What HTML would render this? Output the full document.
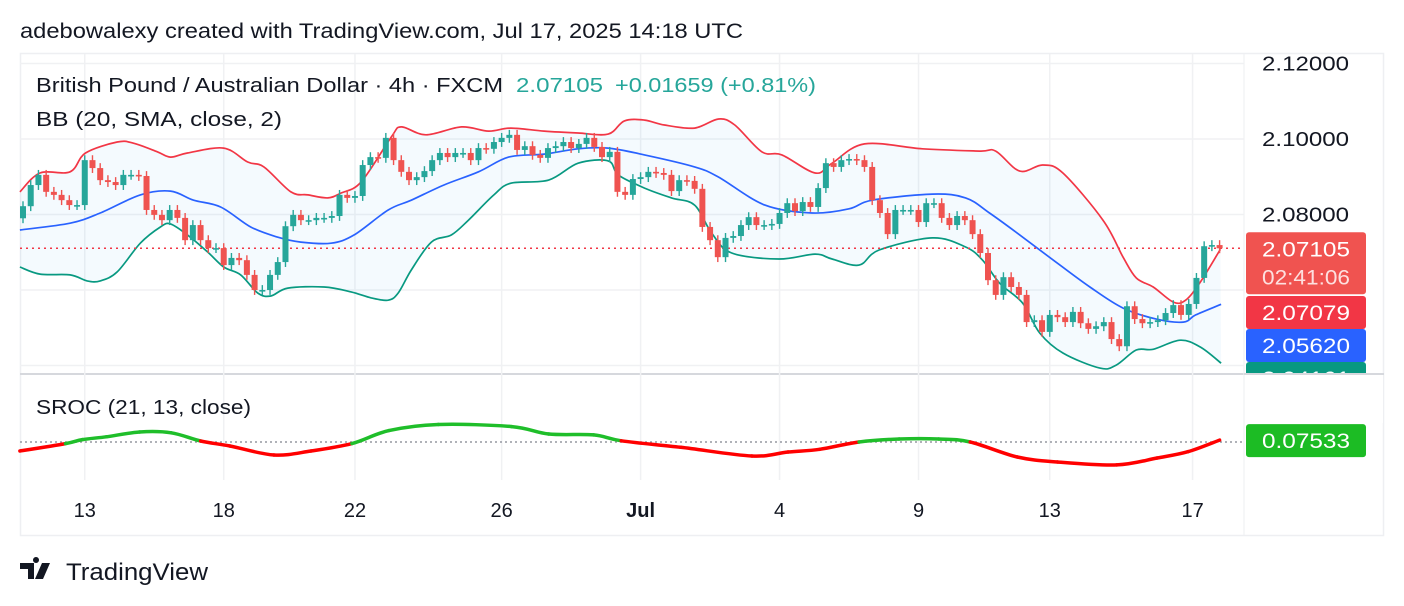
<!DOCTYPE html>
<html><head><meta charset="utf-8">
<style>
html,body{margin:0;padding:0;background:#fff;}
svg{display:block;font-family:"Liberation Sans",sans-serif;}
</style></head>
<body>
<svg id="chart" width="1404" height="606" viewBox="0 0 1404 606">
  <text x="20" y="38" font-size="21" fill="#131722" textLength="723" lengthAdjust="spacingAndGlyphs">adebowalexy created with TradingView.com, Jul 17, 2025 14:18 UTC</text>
  <rect x="20.5" y="53.5" width="1363" height="482" fill="none" stroke="#eeeff2" stroke-width="1.5"/>
  <line x1="20" y1="374" x2="1384" y2="374" stroke="#d6d8dd" stroke-width="2"/>
  <line x1="1244" y1="53" x2="1244" y2="536" stroke="#eeeff2" stroke-width="1"/>
  <g id="grid"></g>
  <g id="bands"></g>
  <g id="candles"></g>
  <g id="sroc"></g>
  <g id="axes"></g>
  <text x="36" y="92" font-size="20" fill="#131722" textLength="467" lengthAdjust="spacingAndGlyphs">British Pound / Australian Dollar · 4h · FXCM</text>
  <text x="516" y="92" font-size="20" fill="#26a69a" textLength="87" lengthAdjust="spacingAndGlyphs">2.07105</text>
  <text x="615" y="92" font-size="20" fill="#26a69a" textLength="201" lengthAdjust="spacingAndGlyphs">+0.01659 (+0.81%)</text>
  <text x="36" y="126" font-size="20" fill="#131722" textLength="246" lengthAdjust="spacingAndGlyphs">BB (20, SMA, close, 2)</text>
  <text x="36" y="414" font-size="20" fill="#131722" textLength="215" lengthAdjust="spacingAndGlyphs">SROC (21, 13, close)</text>
  <g>
    <path d="M20 563h14v16h-6v-10h-8z M36 563a3 3 0 1 1 0.01 0z M42 563h8l-7 16h-8z" fill="#131722"/>
    <text x="66" y="580" font-size="24" fill="#131722" textLength="142" lengthAdjust="spacingAndGlyphs">TradingView</text>
  </g>
</svg>
<script>
const closes = [2.0822,2.0878,2.0905,2.0860,2.0852,2.0838,2.0825,2.0825,2.0944,2.0923,2.0891,2.0886,2.0878,2.0905,2.0905,2.0902,2.0812,2.0799,2.0785,2.0812,2.0791,2.0732,2.0772,2.0732,2.0711,2.0711,2.0666,2.0685,2.0679,2.0640,2.0600,2.0600,2.0640,2.0674,2.0769,2.0799,2.0785,2.0785,2.0791,2.0791,2.0796,2.0852,2.0844,2.0849,2.0931,2.0952,2.0950,2.1003,2.0944,2.0913,2.0891,
2.0899,2.0915,2.0944,2.0963,2.0952,2.0963,2.0963,2.0944,2.0976,2.0974,2.0992,2.1003,2.1011,2.0971,2.0981,2.0958,2.0950,2.0976,2.0981,2.0992,2.0976,2.0987,2.1003,2.0979,2.0952,2.0966,2.0860,2.0852,2.0894,2.0899,2.0913,2.0910,2.0905,2.0862,2.0891,2.0889,2.0868,2.0767,2.0732,2.0687,2.0738,2.0743,2.0772,2.0793,2.0772,2.0772,2.0775,2.0804,2.0830,2.0809,2.0833,2.0820,2.0870,2.0936,
2.0926,2.0944,2.0947,2.0944,2.0926,2.0838,2.0804,2.0748,2.0812,2.0812,2.0812,2.0780,2.0830,2.0830,2.0791,2.0772,2.0796,2.0785,2.0748,2.0698,2.0626,2.0587,2.0634,2.0608,2.0587,2.0515,2.0520,2.0489,2.0534,2.0528,2.0515,2.0542,2.0512,2.0497,2.0504,2.0515,2.0470,2.0451,2.0557,2.0523,2.0512,2.0515,2.0520,2.0539,2.0560,2.0534,2.0563,2.0632,2.0716,2.0719,2.07105];
const firstOpen = 2.0790;
const upperIdx = [-0.4,2.2,6.1,8.1,12.2,14.3,17.4,19.1,21.3,26.0,29.1,31.2,34.7,36.9,39.5,41.2,43.8,47.7,49.0,52.2,56.8,60.3,63.2,67.5,71.9,75.8,77.9,80.5,83.1,87.0,90.1,92.2,95.7,98.3,102.6,104.8,109.0,116.5,123.9,126.0,129.1,132.1,134.7,139.9,142.5,144.2,146.4,149.0,150.6,152.5,155.1];
const upperVal = [2.0860,2.0910,2.0913,2.0963,2.0992,2.0989,2.0966,2.0952,2.0963,2.0976,2.0939,2.0926,2.0860,2.0852,2.0844,2.0857,2.0886,2.1005,2.1032,2.1011,2.1032,2.1021,2.1029,2.1021,2.1016,2.1013,2.1048,2.1050,2.1037,2.1029,2.1053,2.1037,2.0966,2.0958,2.0910,2.0936,2.0987,2.0974,2.0968,2.0968,2.0915,2.0931,2.0910,2.0785,2.0687,2.0632,2.0608,2.0568,2.0573,2.0621,2.07079];
const midIdx = [-0.4,6.1,10.0,15.2,19.1,22.1,25.6,29.5,33.0,36.0,39.9,42.9,47.3,50.3,54.5,59.0,62.9,67.5,71.9,75.8,80.5,87.0,90.1,96.1,102.2,107.0,110.0,117.8,122.1,125.2,129.1,133.8,138.2,142.5,146.8,150.3,151.9,155.2];
const midVal = [2.0759,2.0777,2.0804,2.0852,2.0862,2.0838,2.0820,2.0767,2.0740,2.0727,2.0724,2.0746,2.0812,2.0838,2.0878,2.0913,2.0952,2.0960,2.0974,2.0976,2.0958,2.0926,2.0899,2.0825,2.0804,2.0815,2.0838,2.0854,2.0844,2.0804,2.0746,2.0674,2.0608,2.0552,2.0523,2.0515,2.0534,2.0562];
const lowerIdx = [-0.4,2.2,6.1,8.3,10.0,12.2,15.2,17.8,19.1,21.3,23.9,26.0,28.2,30.4,32.1,34.3,39.0,42.5,45.1,47.3,48.6,50.3,52.9,55.5,57.7,61.0,63.2,68.1,71.9,75.8,77.1,80.5,84.0,87.0,89.2,91.8,97.9,102.6,104.8,108.3,110.9,117.8,122.1,124.3,126.5,129.5,131.7,134.7,139.5,141.6,144.2,146.4,149.9,152.5,155.2];
const lowerVal = [2.0661,2.0642,2.0640,2.0624,2.0624,2.0648,2.0724,2.0767,2.0775,2.0746,2.0701,2.0661,2.0640,2.0592,2.0584,2.0605,2.0608,2.0595,2.0579,2.0573,2.0592,2.0653,2.0727,2.0746,2.0785,2.0852,2.0883,2.0891,2.0936,2.0942,2.0905,2.0870,2.0844,2.0825,2.0751,2.0698,2.0682,2.0695,2.0682,2.0666,2.0706,2.0738,2.0714,2.0679,2.0618,2.0565,2.0486,2.0433,2.0393,2.0401,2.0441,2.0443,2.0467,2.0449,2.0406];
const srocIdx = [-0.4,5.5,7.7,10.8,15.1,19.2,23.0,26.8,32.5,37.3,42.6,47.4,53.8,63.3,68.1,73.9,77.5,85.2,94.4,99.1,103.2,108.3,113.5,118.6,122.7,128.8,134.0,141.7,146.9,150.9,155.0];
const srocVal = [-0.36,-0.064,0.096,0.21,0.40,0.37,0.04,-0.16,-0.52,-0.36,-0.064,0.456,0.70,0.616,0.32,0.284,0.048,-0.212,-0.56,-0.40,-0.292,0,0.12,0.12,0,-0.60,-0.80,-0.916,-0.64,-0.388,0.07533];
const priceTicks = [2.12,2.10,2.08,2.06,2.04];
const priceTickLabels = ["2.12000","2.10000","2.08000","",""];
const timeTickIdx = [8,26,43,62,80,98,116,133,151.5];
const timeTickLabels = ["13","18","22","26","Jul","4","9","13","17"];
const lastPrice = 2.07105;

const NS = "http://www.w3.org/2000/svg";
const X0 = 23, DX = 7.72;
const xs = i => X0 + i * DX;
const ys = p => 139 + (2.10 - p) / 0.02 * 75.5;
const srocY = v => 442 - v / 0.04;
function mk(tag, attrs, parent){ const e=document.createElementNS(NS,tag); for(const k in attrs) e.setAttribute(k, attrs[k]); parent.appendChild(e); return e; }
function pts(ia, va, fy){ return ia.map((i,k)=>[xs(i), fy(va[k])]); }
function smooth(p, start){
  let d = start ? 'M'+p[0][0].toFixed(1)+' '+p[0][1].toFixed(1) : 'L'+p[0][0].toFixed(1)+' '+p[0][1].toFixed(1);
  for(let k=0;k<p.length-1;k++){
    const p0=p[Math.max(0,k-1)], p1=p[k], p2=p[k+1], p3=p[Math.min(p.length-1,k+2)];
    const c1=[p1[0]+(p2[0]-p0[0])/6, p1[1]+(p2[1]-p0[1])/6];
    const c2=[p2[0]-(p3[0]-p1[0])/6, p2[1]-(p3[1]-p1[1])/6];
    d+=' C'+c1[0].toFixed(1)+' '+c1[1].toFixed(1)+' '+c2[0].toFixed(1)+' '+c2[1].toFixed(1)+' '+p2[0].toFixed(1)+' '+p2[1].toFixed(1);
  }
  return d;
}

const grid = document.getElementById('grid');
priceTicks.forEach((p)=>{ const l=mk('line',{x1:20,x2:1244,y1:ys(p),y2:ys(p),stroke:'#f0f1f3','stroke-width':1.5},grid);
  
   });
timeTickIdx.forEach((i)=>{ const l=mk('line',{x1:xs(i),x2:xs(i),y1:54,y2:480,stroke:'#f0f1f3','stroke-width':1.5},grid);
  
   });

const bands = document.getElementById('bands');
const up = pts(upperIdx, upperVal, ys), md = pts(midIdx, midVal, ys), lw = pts(lowerIdx, lowerVal, ys);
const fillD = smooth(up, true) + ' ' + smooth(lw.slice().reverse(), false) + ' Z';
const bf = mk('path',{d:fillD,fill:'#2196f3','fill-opacity':0.05},bands);


const bu = mk('path',{d:smooth(up,true),fill:'none',stroke:'#f23645','stroke-width':1.7},bands);


const bm = mk('path',{d:smooth(md,true),fill:'none',stroke:'#2962ff','stroke-width':1.7},bands);


const bl = mk('path',{d:smooth(lw,true),fill:'none',stroke:'#089981','stroke-width':1.7},bands);


const lp = mk('line',{x1:20,x2:1244,y1:ys(lastPrice),y2:ys(lastPrice),stroke:'#f23645','stroke-width':1.5,'stroke-dasharray':'2 4'},bands);



const cg = document.getElementById('candles');
const WICK = 0.0013;
closes.forEach((c,i)=>{
  const o = i ? closes[i-1] : firstOpen;
  const isUp = c >= o;
  const col = isUp ? '#26a69a' : '#ef5350';
  const hi = Math.max(o,c) + WICK, lo = Math.min(o,c) - WICK;
  const x = xs(i);
  const g = mk('g',{},cg);
  
  
  mk('line',{x1:x,x2:x,y1:ys(hi),y2:ys(lo),stroke:col,'stroke-width':1.4},g);
  const top = ys(Math.max(o,c)), h = Math.max(1.6, ys(Math.min(o,c)) - top);
  mk('rect',{x:x-3,y:top,width:6,height:h,fill:col},g);
});

const sg = document.getElementById('sroc');
const bl0 = mk('line',{x1:20,x2:1244,y1:srocY(0),y2:srocY(0),stroke:'#9598a1','stroke-width':1.5,'stroke-dasharray':'2 3'},sg);


const sp = pts(srocIdx, srocVal, srocY);
for(let k=1;k<sp.length;k++){
  const v = (srocVal[k]+srocVal[k-1])/2;
  const seg = smooth(sp.slice(Math.max(0,k-2), Math.min(sp.length,k+2)), true);
  const p0=sp[Math.max(0,k-2)], p1=sp[k-1], p2=sp[k], p3=sp[Math.min(sp.length-1,k+1)];
  const c1=[p1[0]+(p2[0]-p0[0])/6, p1[1]+(p2[1]-p0[1])/6];
  const c2=[p2[0]-(p3[0]-p1[0])/6, p2[1]-(p3[1]-p1[1])/6];
  const d='M'+p1[0].toFixed(1)+' '+p1[1].toFixed(1)+' C'+c1[0].toFixed(1)+' '+c1[1].toFixed(1)+' '+c2[0].toFixed(1)+' '+c2[1].toFixed(1)+' '+p2[0].toFixed(1)+' '+p2[1].toFixed(1);
  const s = mk('path',{d:d,fill:'none',stroke:v>=0?'#1fbe2a':'#ff0000','stroke-width':3.5,'stroke-linecap':'round'},sg);
  
  
}

const ax = document.getElementById('axes');
priceTicks.forEach((p,k)=>{ if(!priceTickLabels[k]) return;
  const t = mk('text',{x:1262,y:ys(p)+7,'font-size':20,fill:'#131722',textLength:87,lengthAdjust:'spacingAndGlyphs'},ax); t.textContent = priceTickLabels[k];
  
   });
timeTickIdx.forEach((i,k)=>{ const t = mk('text',{x:xs(i),y:517,'font-size':20,fill:'#131722','text-anchor':'middle','font-weight':timeTickLabels[k]==='Jul'?'bold':'normal'},ax); t.textContent = timeTickLabels[k];
  
   });

function badge(y,h,color,lines,name){
  const g = mk('g',{},ax);
  
  
  mk('rect',{x:1246,y:y,width:120,height:h,rx:3,fill:color},g);
  lines.forEach((l,k)=>{ const t=mk('text',{x:1262,y:y+24+k*28,'font-size':21,fill:k?'#fde0df':'#ffffff',textLength:88,lengthAdjust:'spacingAndGlyphs'},g); t.textContent=l; });
  return g;
}
badge(362,40,'#089981',['2.04161'],'bb-lower-badge');
const cover = mk('rect',{x:1245,y:375,width:138,height:48,fill:'#fff'},ax);


mk('line',{x1:1244,y1:374,x2:1384,y2:374,stroke:'#d6d8dd','stroke-width':2},ax);
badge(ys(lastPrice)-16,62,'#f05350',['2.07105','02:41:06'],'last-price-badge');
badge(296,33,'#f23645',['2.07079'],'bb-upper-badge');
badge(329,33,'#2962ff',['2.05620'],'bb-basis-badge');
badge(srocY(0.07533)-16,33,'#1cbc24',['0.07533'],'sroc-value-badge');
</script>
</body></html>
